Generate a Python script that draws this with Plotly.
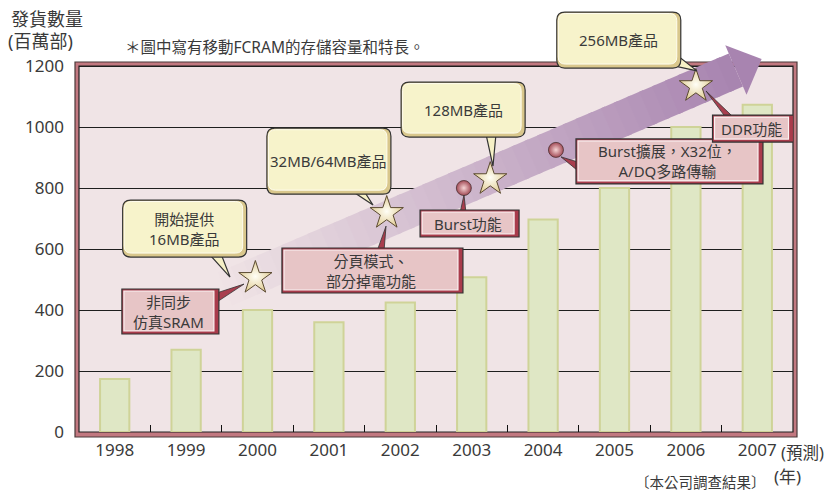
import numpy as np
import plotly.graph_objects as go

# ---------------- data ----------------
years = ["1998", "1999", "2000", "2001", "2002", "2003", "2004", "2005", "2006", "2007"]
shipments = [174, 270, 400, 360, 425, 507, 697, 800, 1000, 1073]   # 百萬部
y_tick_values = [0, 200, 400, 600, 800, 1000, 1200]

# milestones (x in year-index units, y in 百萬部)
star_x = [1.97, 3.81, 5.26, 8.14]
star_y = [505, 718, 829, 1134]
ball_x = [4.89, 6.18]
ball_y = [800, 925]

yellow_labels = ["開始提供<br>16MB產品", "32MB/64MB產品", "128MB產品", "256MB產品"]
yellow_x = [0.98, 3.00, 4.88, 7.06]
yellow_y = [667, 888, 1057, 1285]

red_labels = ["非同步<br>仿真SRAM", "分頁模式、<br>部分掉電功能", "Burst功能",
              "Burst擴展，X32位，<br>A/DQ多路傳輸", "DDR功能"]
red_x = [0.78, 3.61, 4.97, 7.77, 8.94]
red_y = [395, 529.5, 683.6, 887, 995]

# callout pointers: (base point 1, base point 2, tip) in data units
yellow_tails = [
    ((1.321, 584), (1.489, 584), (1.615, 508)),
    ((3.324, 790), (3.492, 790), (3.618, 744)),
    ((5.200, 977), (5.340, 977), (5.298, 872)),
    ((7.847, 1200), (7.931, 1225), (8.155, 1184)),
]
red_tails = [
    ((1.43, 456), (1.43, 426), (1.811, 485)),
    ((3.674, 593), (3.772, 593), (3.80, 675)),
    ((4.836, 718), (4.920, 718), (4.892, 777)),
    ((6.49, 885), (6.49, 856), (6.251, 902)),
    ((8.562, 1030), (8.674, 1030), (8.282, 1118)),
]

# trend arrow centre line (data units)
arrow_start = (1.545, 469)
arrow_end = (8.70, 1187)

# ---------------- geometry / style ----------------
W, H = 835, 493
PAGE = 8                       # default body margin of the html page
PLOT_L, PLOT_R, PLOT_T, PLOT_B = 79, 793, 10, 432   # plot area on screen
ML = PLOT_L - PAGE
MT = PLOT_T - PAGE
MR = W - (PLOT_R - PAGE)
MB = H - (PLOT_B - PAGE)
PW = PLOT_R - PLOT_L
PH = PLOT_B - PLOT_T
X_RANGE = [-0.5, 9.5]
Y_MAX = 1200 * PH / 366.0

yellow_size = [(124, 57), (124, 66), (124, 55), (124, 56)]
red_size = [(97, 45), (181, 45), (99, 27), (187, 45), (81, 27)]

FONT = "Noto Sans, Noto Sans CJK TC, sans-serif"
TXT = "#3a3a3a"


def d2p(x, y):
    return np.array([(x - X_RANGE[0]) / (X_RANGE[1] - X_RANGE[0]) * PW, y / Y_MAX * PH])


def p2d(p):
    return (p[0] / PW * (X_RANGE[1] - X_RANGE[0]) + X_RANGE[0], p[1] / PH * Y_MAX)


def poly_path(pts):
    return "M " + " L ".join(f"{x:.4f},{y:.3f}" for x, y in pts) + " Z"


def rrect(x0, x1, y0, y1, r):
    if r <= 0:
        return f"M {x0},{y0} L {x1},{y0} L {x1},{y1} L {x0},{y1} Z"
    return (f"M {x0+r},{y0} L {x1-r},{y0} Q {x1},{y0} {x1},{y0+r} "
            f"L {x1},{y1-r} Q {x1},{y1} {x1-r},{y1} L {x0+r},{y1} "
            f"Q {x0},{y1} {x0},{y1-r} L {x0},{y0+r} Q {x0},{y0} {x0+r},{y0} Z")


def paper_x(sx):
    return (sx - PLOT_L) / PW


def paper_y(sy):
    return (PLOT_B - sy) / PH


fig = go.Figure()

xs = np.arange(len(years))
fig.add_trace(go.Bar(
    x=xs, y=shipments, width=0.41,
    marker=dict(color="#dfe7c5", line=dict(color="#cfd398", width=2)),
    hoverinfo="skip", showlegend=False))

fig.add_trace(go.Scatter(
    x=star_x, y=star_y, mode="markers", cliponaxis=False, showlegend=False,
    marker=dict(symbol="star", size=25, color="#e3cf98",
                gradient=dict(type="radial", color="#fffef6"),
                line=dict(color="#5a4a30", width=1))))

fig.add_trace(go.Scatter(
    x=ball_x, y=ball_y, mode="markers", cliponaxis=False, showlegend=False,
    marker=dict(symbol="circle", size=15, color="#a24a56",
                gradient=dict(type="radial", color="#f6d4d4"),
                line=dict(color="#4a3030", width=0.8))))

shapes = []
# frame (paper, below everything)
top_y = 1200 / Y_MAX
shapes.append(dict(type="rect", xref="paper", yref="paper", layer="below",
                   x0=paper_x(PLOT_L - 4), x1=paper_x(PLOT_R + 4),
                   y0=paper_y(PLOT_B + 5), y1=top_y + 4 / PH,
                   fillcolor="#c27880", line=dict(color="#4a3a3a", width=1.2)))
shapes.append(dict(type="rect", xref="paper", yref="paper", layer="below",
                   x0=0, x1=1, y0=0, y1=top_y,
                   fillcolor="#f0e4e6", line=dict(color="#222222", width=1.2)))

# trend arrow with gradient
p0 = d2p(*arrow_start)
p1 = d2p(*arrow_end)
u = (p1 - p0) / np.linalg.norm(p1 - p0)
nrm = np.array([-u[1], u[0]])
half, head_half, head_len = 18, 27, 28
c_bg = np.array([240, 228, 230])
c_head = np.array([168, 132, 176])
N = 40
for i in range(N):
    a = p0 + (p1 - p0) * i / N
    b = p0 + (p1 - p0) * min((i + 1.3) / N, 1.0)
    t = (i + 0.5) / N
    c = c_bg + (c_head - c_bg) * t
    col = f"rgb({int(c[0])},{int(c[1])},{int(c[2])})"
    pts = [p2d(a + nrm * half), p2d(b + nrm * half), p2d(b - nrm * half), p2d(a - nrm * half)]
    shapes.append(dict(type="path", xref="x", yref="y", layer="between",
                       path=poly_path(pts), fillcolor=col, line=dict(width=0)))
head = [p2d(p1 + nrm * head_half), p2d(p1 + u * head_len), p2d(p1 - nrm * head_half)]
shapes.append(dict(type="path", xref="x", yref="y", layer="between",
                   path=poly_path(head), fillcolor="rgb(168,132,176)", line=dict(width=0)))

# pointers
for tl in yellow_tails:
    shapes.append(dict(type="path", xref="x", yref="y", layer="above",
                       path=poly_path(tl), fillcolor="#f6f0c6",
                       line=dict(color="#333333", width=1.2)))
for tl in red_tails:
    shapes.append(dict(type="path", xref="x", yref="y", layer="above",
                       path=poly_path(tl), fillcolor="#a83e4e",
                       line=dict(color="#333333", width=0.8)))

annotations = []
# yellow callout boxes
for lab, bx, by, (w, h) in zip(yellow_labels, yellow_x, yellow_y, yellow_size):
    common = dict(type="path", xref="x", yref="y", layer="above",
                  xsizemode="pixel", ysizemode="pixel", xanchor=bx, yanchor=by)
    shapes.append(dict(**common, path=rrect(-w / 2, w / 2, -h / 2, h / 2, 8),
                       fillcolor="#d9c78c", line=dict(color="#333333", width=1.2)))
    shapes.append(dict(**common, path=rrect(-w / 2 + 1.5, w / 2 - 4, -h / 2 + 4, h / 2 - 1.5, 7),
                       fillcolor="#f7f3cb", line=dict(color="#fffdf0", width=1)))
    annotations.append(dict(x=bx, y=by, xref="x", yref="y", text=lab, showarrow=False,
                            font=dict(family=FONT, size=15, color=TXT)))

# red feature boxes
for lab, bx, by, (w, h) in zip(red_labels, red_x, red_y, red_size):
    common = dict(type="path", xref="x", yref="y", layer="above",
                  xsizemode="pixel", ysizemode="pixel", xanchor=bx, yanchor=by)
    shapes.append(dict(**common, path=rrect(-w / 2, w / 2, -h / 2, h / 2, 0),
                       fillcolor="#a93b4b", line=dict(color="#333333", width=1.2)))
    shapes.append(dict(**common, path=rrect(-w / 2 + 2, w / 2 - 5, -h / 2 + 3, h / 2 - 2, 0),
                       fillcolor="#e7c5c6", line=dict(color="#fbf3f3", width=1.2)))
    annotations.append(dict(x=bx - 1.5 / 71.4, y=by, xref="x", yref="y", text=lab, showarrow=False,
                            font=dict(family=FONT, size=15, color=TXT)))

# free texts (screen positions)
annotations += [
    dict(xref="paper", yref="paper", x=paper_x(9), y=paper_y(19), xanchor="left", yanchor="middle",
         text="發貨數量", showarrow=False, font=dict(family=FONT, size=18, color=TXT)),
    dict(xref="paper", yref="paper", x=paper_x(6), y=paper_y(41), xanchor="left", yanchor="middle",
         text="(百萬部)", showarrow=False, font=dict(family=FONT, size=18, color=TXT)),
    dict(xref="paper", yref="paper", x=paper_x(123), y=paper_y(47), xanchor="left", yanchor="middle",
         text="＊圖中寫有移動FCRAM的存儲容量和特長。", showarrow=False,
         font=dict(family=FONT, size=15.5, color=TXT)),
    dict(xref="paper", yref="paper", x=paper_x(779), y=paper_y(452), xanchor="left", yanchor="middle",
         text="(預測)", showarrow=False, font=dict(family=FONT, size=16.5, color=TXT)),
    dict(xref="paper", yref="paper", x=paper_x(772), y=paper_y(476), xanchor="left", yanchor="middle",
         text="(年)", showarrow=False, font=dict(family=FONT, size=17, color=TXT)),
    dict(xref="paper", yref="paper", x=paper_x(700), y=paper_y(482), xanchor="center", yanchor="middle",
         text="〔本公司調查結果〕", showarrow=False, font=dict(family=FONT, size=14.5, color=TXT)),
]

fig.update_layout(
    width=W, height=H, autosize=False,
    margin=dict(l=ML, r=MR, t=MT, b=MB, pad=0),
    paper_bgcolor="white", plot_bgcolor="rgba(0,0,0,0)",
    shapes=shapes, annotations=annotations, showlegend=False,
    xaxis=dict(range=X_RANGE, tickmode="array", tickvals=list(xs), ticktext=years,
               showgrid=False, zeroline=False, showline=False, ticks="",
               ticklabelstandoff=6,
               tickfont=dict(family=FONT, size=17, color=TXT),
               minor=dict(tickmode="array", tickvals=list(xs[:-1] + 0.5), ticks="inside",
                          ticklen=7, tickcolor="#111111", tickwidth=1.2, showgrid=False),
               fixedrange=True),
    yaxis=dict(range=[0, Y_MAX], tickmode="array", tickvals=y_tick_values,
               showgrid=True, gridcolor="#1e1e1e", gridwidth=1.2, zeroline=False,
               showline=False, ticks="", ticklabelstandoff=14,
               tickfont=dict(family=FONT, size=17, color=TXT), fixedrange=True),
)

fig.write_html("out.html")
